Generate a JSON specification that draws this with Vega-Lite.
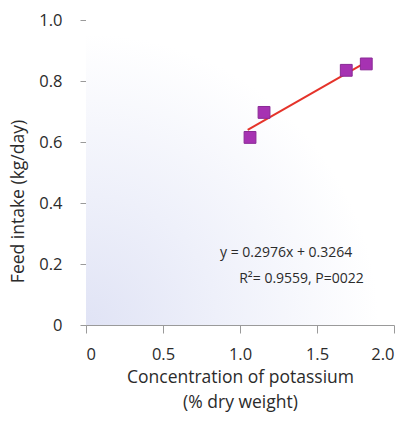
{
  "$schema": "https://vega.github.io/schema/vega-lite/v6.json",
  "width": 308,
  "height": 305,
  "autosize": {"type": "none"},
  "padding": {"left": 86, "top": 20, "right": 11, "bottom": 99},
  "background": "white",
  "config": {
    "view": {"stroke": null},
    "font": "Open Sans",
    "axis": {
      "grid": false,
      "domainColor": "#9a9a9a",
      "tickColor": "#9a9a9a",
      "labelColor": "#2b2b2b",
      "titleColor": "#2b2b2b",
      "labelFont": "Open Sans",
      "titleFont": "Open Sans",
      "labelFontSize": 16.5,
      "titleFontSize": 17.5,
      "titleFontWeight": "normal"
    }
  },
  "datasets": {
    "points": [
      {"potassium": 1.065, "intake": 0.615},
      {"potassium": 1.156, "intake": 0.697},
      {"potassium": 1.69, "intake": 0.835},
      {"potassium": 1.82, "intake": 0.856}
    ],
    "fit": [
      {"potassium": 1.05, "intake": 0.64},
      {"potassium": 1.82, "intake": 0.862}
    ],
    "notes": [
      {"potassium": 0.87, "intake": 0.236, "label": "y = 0.2976x + 0.3264"},
      {"potassium": 0.995, "intake": 0.152, "label": "R²= 0.9559, P=0022"}
    ]
  },
  "layer": [
    {
      "data": {"values": [{}]},
      "mark": {
        "type": "rect",
        "color": {
          "gradient": "radial",
          "x1": 0, "y1": 1, "r1": 0,
          "x2": 0, "y2": 1, "r2": 0.95,
          "stops": [
            {"offset": 0, "color": "#e0e3f5"},
            {"offset": 0.45, "color": "#eef0fa"},
            {"offset": 1, "color": "#ffffff"}
          ]
        }
      },
      "encoding": {
        "x": {"datum": 0, "type": "quantitative"},
        "x2": {"datum": 2},
        "y": {"datum": 0, "type": "quantitative"},
        "y2": {"datum": 1}
      }
    },
    {
      "data": {"name": "fit"},
      "mark": {"type": "line", "color": "#e5332a", "strokeWidth": 2},
      "encoding": {
        "x": {"field": "potassium", "type": "quantitative"},
        "y": {"field": "intake", "type": "quantitative"}
      }
    },
    {
      "data": {"name": "points"},
      "mark": {"type": "square", "size": 140, "filled": true, "color": "#a632b2", "stroke": "#8a2a96", "strokeWidth": 1, "opacity": 1},
      "encoding": {
        "x": {
          "field": "potassium", "type": "quantitative",
          "scale": {"domain": [0, 2], "nice": false, "zero": true},
          "axis": {
            "values": [0, 0.5, 1, 1.5, 2],
            "labelExpr": "datum.value == 0 ? '0' : format(datum.value, '.1f')",
            "tickSize": 8,
            "labelPadding": 13,
            "titlePadding": 6,
            "titleLineHeight": 25,
            "title": ["Concentration of potassium", "(% dry weight)"]
          }
        },
        "y": {
          "field": "intake", "type": "quantitative",
          "scale": {"domain": [0, 1], "nice": false},
          "axis": {
            "values": [0, 0.2, 0.4, 0.6, 0.8, 1],
            "labelExpr": "datum.value == 0 ? '0' : format(datum.value, '.1f')",
            "tickSize": 6,
            "labelPadding": 18,
            "titleX": -68,
            "titleY": 181,
            "titleBaseline": "middle",
            "title": "Feed intake (kg/day)"
          }
        }
      }
    },
    {
      "data": {"name": "notes"},
      "mark": {"type": "text", "align": "left", "baseline": "middle", "fontSize": 14, "color": "#2b2b2b", "font": "Open Sans"},
      "encoding": {
        "x": {"field": "potassium", "type": "quantitative"},
        "y": {"field": "intake", "type": "quantitative"},
        "text": {"field": "label"}
      }
    }
  ]
}
